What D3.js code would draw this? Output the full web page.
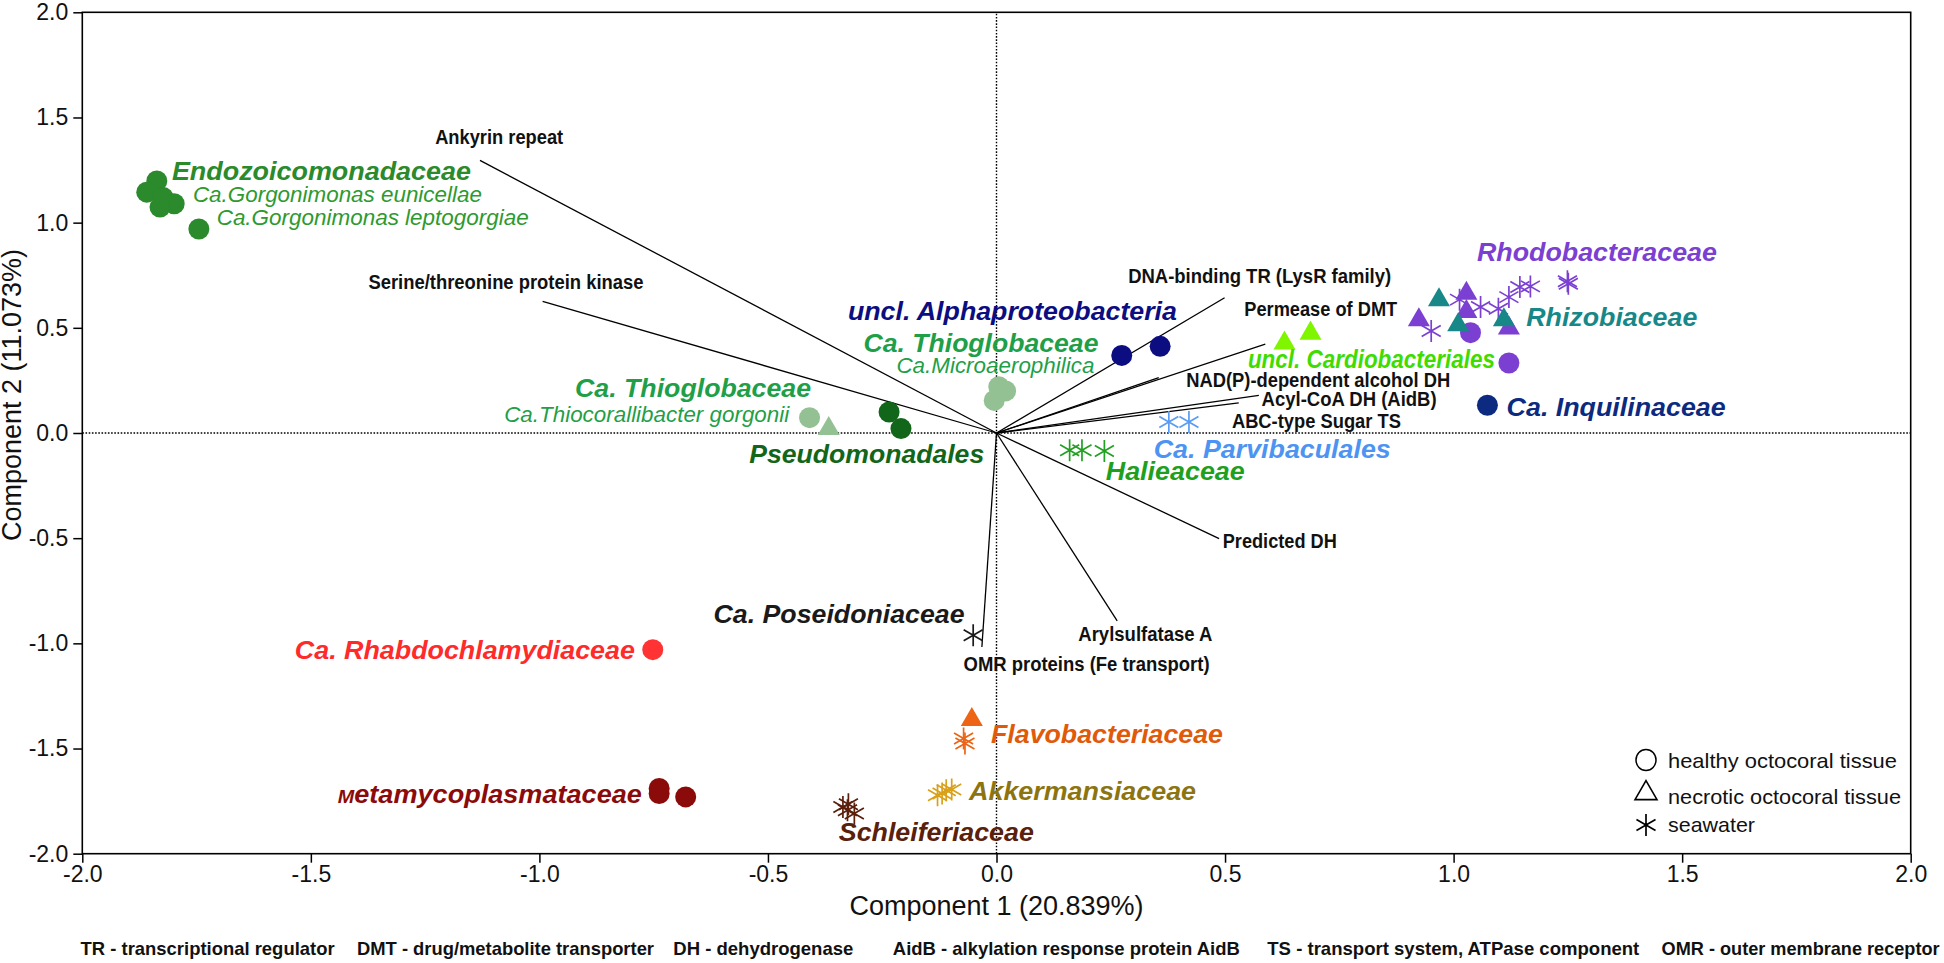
<!DOCTYPE html>
<html><head><meta charset="utf-8">
<script src="https://cdn.jsdelivr.net/npm/d3@7"></script>
<style>body{margin:0;background:#fff}svg{display:block}</style>
</head><body><svg id="c" width="1944" height="963"></svg>
<script>
// ---------------- DATA ----------------
const groups = ["Endozoicomonadaceae","Ca. Thioglobaceae","Pseudomonadales","uncl. Alphaproteobacteria","Halieaceae","Ca. Parvibaculales","uncl. Cardiobacteriales","Rhodobacteraceae","Rhizobiaceae","Ca. Inquilinaceae","Ca. Poseidoniaceae","Ca. Rhabdochlamydiaceae","Flavobacteriaceae","Akkermansiaceae","Schleiferiaceae","Metamycoplasmataceae"];

const sampleGroup = [
 "Endozoicomonadaceae","Endozoicomonadaceae","Endozoicomonadaceae","Endozoicomonadaceae","Endozoicomonadaceae","Endozoicomonadaceae",
 "Ca. Thioglobaceae","Ca. Thioglobaceae",
 "Pseudomonadales","Pseudomonadales",
 "Ca. Thioglobaceae","Ca. Thioglobaceae","Ca. Thioglobaceae",
 "uncl. Alphaproteobacteria","uncl. Alphaproteobacteria",
 "Halieaceae","Halieaceae","Halieaceae",
 "Ca. Parvibaculales","Ca. Parvibaculales",
 "uncl. Cardiobacteriales","uncl. Cardiobacteriales",
 "Rhodobacteraceae","Rhodobacteraceae","Rhodobacteraceae","Rhodobacteraceae",
 "Rhodobacteraceae","Rhodobacteraceae",
 "Rhodobacteraceae","Rhodobacteraceae","Rhodobacteraceae","Rhodobacteraceae","Rhodobacteraceae","Rhodobacteraceae","Rhodobacteraceae","Rhodobacteraceae","Rhodobacteraceae",
 "Rhizobiaceae","Rhizobiaceae","Rhizobiaceae",
 "Ca. Inquilinaceae",
 "Ca. Poseidoniaceae",
 "Ca. Rhabdochlamydiaceae",
 "Flavobacteriaceae","Flavobacteriaceae","Flavobacteriaceae",
 "Akkermansiaceae","Akkermansiaceae","Akkermansiaceae","Akkermansiaceae",
 "Schleiferiaceae","Schleiferiaceae","Schleiferiaceae","Schleiferiaceae",
 "Metamycoplasmataceae","Metamycoplasmataceae","Metamycoplasmataceae"
];
const sampleType = [
 "healthy","healthy","healthy","healthy","healthy","healthy",
 "healthy","necrotic",
 "healthy","healthy",
 "healthy","healthy","healthy",
 "healthy","healthy",
 "seawater","seawater","seawater",
 "seawater","seawater",
 "necrotic","necrotic",
 "necrotic","necrotic","necrotic","necrotic",
 "healthy","healthy",
 "seawater","seawater","seawater","seawater","seawater","seawater","seawater","seawater","seawater",
 "necrotic","necrotic","necrotic",
 "healthy",
 "seawater",
 "healthy",
 "necrotic","seawater","seawater",
 "seawater","seawater","seawater","seawater",
 "seawater","seawater","seawater","seawater",
 "healthy","healthy","healthy"
];
const sampleX = [
 -1.837,-1.859,-1.823,-1.799,-1.830,-1.745,
 -0.409,-0.367,
 -0.235,-0.209,
 0.005,0.020,-0.005,
 0.274,0.358,
 0.160,0.187,0.236,
 0.377,0.421,
 0.630,0.687,
 0.924,1.028,1.028,1.121,
 1.037,1.121,
 0.951,1.013,1.059,1.098,1.121,1.145,1.168,1.249,1.251,
 0.968,1.010,1.110,
 1.074,
 -0.051,
 -0.752,
 -0.054,-0.072,-0.069,
 -0.129,-0.110,-0.098,-0.119,
 -0.336,-0.324,-0.311,-0.326,
 -0.738,-0.738,-0.680
];
const sampleY = [
 1.198,1.145,1.119,1.090,1.074,0.970,
 0.073,0.027,
 0.100,0.021,
 0.220,0.200,0.155,
 0.369,0.412,
 -0.082,-0.082,-0.086,
 0.052,0.052,
 0.433,0.480,
 0.544,0.670,0.583,0.504,
 0.477,0.333,
 0.485,0.634,0.599,0.591,0.646,0.694,0.697,0.721,0.710,
 0.639,0.520,0.544,
 0.132,
 -0.961,
 -1.030,
 -1.357,-1.452,-1.476,
 -1.722,-1.698,-1.695,-1.714,
 -1.778,-1.765,-1.809,-1.793,
 -1.690,-1.714,-1.730
];

const vectorNames = ["Ankyrin repeat","Serine/threonine protein kinase","DNA-binding TR (LysR family)","Permease of DMT","NAD(P)-dependent alcohol DH","Acyl-CoA DH (AidB)","ABC-type Sugar TS","Predicted DH","Arylsulfatase A","OMR proteins (Fe transport)"];
const vectorX = [-1.130,-0.993,0.499,0.588,0.355,0.574,0.530,0.487,0.264,-0.032];
const vectorY = [1.296,0.626,0.643,0.422,0.263,0.179,0.143,-0.502,-0.893,-1.017];

const xTicks = [-2.0,-1.5,-1.0,-0.5,0.0,0.5,1.0,1.5,2.0];
const yTicks = [-2.0,-1.5,-1.0,-0.5,0.0,0.5,1.0,1.5,2.0];
const xTitle = "Component 1 (20.839%)";
const yTitle = "Component 2 (11.073%)";
const legendLabels = ["healthy octocoral tissue","necrotic octocoral tissue","seawater"];
const legendTypes = ["healthy","necrotic","seawater"];
const footnotes = ["TR - transcriptional regulator","DMT - drug/metabolite transporter","DH - dehydrogenase","AidB - alkylation response protein AidB","TS - transport system, ATPase component","OMR - outer membrane receptor"];

// ---------------- STYLE / LAYOUT ----------------
const groupColor = {
 "Endozoicomonadaceae":"#2b8a2b","Ca. Thioglobaceae":"#93c193","Pseudomonadales":"#11661a",
 "uncl. Alphaproteobacteria":"#0d0d82","Halieaceae":"#22a022","Ca. Parvibaculales":"#5a9cf5",
 "uncl. Cardiobacteriales":"#80f500","Rhodobacteraceae":"#7b40d2","Rhizobiaceae":"#178787",
 "Ca. Inquilinaceae":"#0b2a80","Ca. Poseidoniaceae":"#1a1a1a","Ca. Rhabdochlamydiaceae":"#ff3333",
 "Flavobacteriaceae":"#ec6414","Akkermansiaceae":"#d9a01a","Schleiferiaceae":"#5a200c",
 "Metamycoplasmataceae":"#8b0a0a"
};
// taxon labels: [text, colour, bold?, x(data), y(data), width px]
const taxonLabels = [
 ["Endozoicomonadaceae","#2b8a2b",true,-1.804,1.249,299],
 ["Ca.Gorgonimonas eunicellae","#2e9a2e",false,-1.758,1.138,289],
 ["Ca.Gorgonimonas leptogorgiae","#2e9a2e",false,-1.706,1.027,312],
 ["Ca. Thioglobaceae","#1f9f48",true,-0.922,0.215,236],
 ["Ca.Thiocorallibacter gorgonii","#1f9f48",false,-1.077,0.089,285],
 ["Pseudomonadales","#11661a",true,-0.541,-0.098,235],
 ["uncl. Alphaproteobacteria","#0d0d82",true,-0.325,0.583,329],
 ["Ca. Thioglobaceae","#1f9f48",true,-0.291,0.430,235],
 ["Ca.Microaerophilica","#1f9f48",false,-0.219,0.322,198],
 ["uncl. Cardiobacteriales","#40dc00",true,0.550,0.354,247],
 ["Ca. Parvibaculales","#4d94f2",true,0.344,-0.074,237],
 ["Halieaceae","#1ea01e",true,0.239,-0.181,139],
 ["Rhodobacteraceae","#7b40d2",true,1.051,0.864,240],
 ["Rhizobiaceae","#178787",true,1.159,0.551,171],
 ["Ca. Inquilinaceae","#0b2a80",true,1.116,0.124,219],
 ["Ca. Poseidoniaceae","#1a1a1a",true,-0.619,-0.858,251],
 ["Ca. Rhabdochlamydiaceae","#ff2a2a",true,-1.535,-1.028,340],
 ["Flavobacteriaceae","#e05a0a",true,-0.012,-1.429,232],
 ["Akkermansiaceae","#8c7510",true,-0.060,-1.698,227],
 ["Schleiferiaceae","#5a200c",true,-0.345,-1.896,195],
 ["Metamycoplasmataceae","#8b0a0a",true,-1.441,-1.714,304]
];
// vector label anchors: [x(data), y(data), width px]
const vectorLabelPos = [
 [-1.228,1.410,128],[-1.374,0.718,275],[0.288,0.745,263],[0.542,0.591,153],[0.415,0.254,264],
 [0.580,0.163,175],[0.515,0.057,169],[0.495,-0.513,114],[0.179,-0.953,134],[-0.072,-1.095,246]
];
const footPos = [[80.6,254],[357,297],[673.3,180],[892.8,347],[1267.3,372],[1661.6,278]];

const FONT = "'Liberation Sans', Arial, Helvetica, sans-serif";
const W = 1944, H = 963;
const svg = d3.select("#c");
svg.append("rect").attr("width",W).attr("height",H).attr("fill","#fff");

const x = d3.scaleLinear().domain([-2,2]).range([82.3,1910.7]);
const y = d3.scaleLinear().domain([-2,2]).range([853.7,12.3]);

// dotted zero lines
svg.append("line").attr("x1",x(-2)).attr("x2",x(2)).attr("y1",y(0)).attr("y2",y(0))
  .attr("stroke","#000").attr("stroke-width",1.4).attr("stroke-dasharray","1.6,1.6");
svg.append("line").attr("x1",x(0)).attr("x2",x(0)).attr("y1",y(-2)).attr("y2",y(2))
  .attr("stroke","#000").attr("stroke-width",1.4).attr("stroke-dasharray","1.6,1.6");

// axes
const fmt = d => d.toFixed(1);
const xa = svg.append("g").attr("transform",`translate(0,${y(-2)})`)
  .call(d3.axisBottom(x).tickValues(xTicks).tickFormat(fmt).tickSize(9).tickPadding(3));
const ya = svg.append("g").attr("transform",`translate(${x(-2)},0)`)
  .call(d3.axisLeft(y).tickValues(yTicks).tickFormat(fmt).tickSize(9).tickPadding(5));
[xa,ya].forEach(g=>{
  g.select(".domain").remove();
  g.selectAll(".tick line").attr("stroke","#000").attr("stroke-width",1.5);
  g.selectAll(".tick text").attr("font-size",23).attr("font-family",FONT).attr("fill","#111");
});

// frame
svg.append("rect").attr("x",x(-2)).attr("y",y(2)).attr("width",x(2)-x(-2)).attr("height",y(-2)-y(2))
  .attr("fill","none").attr("stroke","#000").attr("stroke-width",1.6);

// axis titles
svg.append("text").attr("x",(x(-2)+x(2))/2).attr("y",915).attr("text-anchor","middle")
  .attr("font-family",FONT).attr("font-size",27).attr("fill","#111").text(xTitle);
svg.append("text").attr("transform","translate(21,395) rotate(-90)").attr("text-anchor","middle")
  .attr("font-family",FONT).attr("font-size",27).attr("fill","#111").text(yTitle);

// loading vectors
const vecs = vectorNames.map((n,i)=>({n, vx:vectorX[i], vy:vectorY[i], lp:vectorLabelPos[i]}));
svg.append("g").selectAll("line").data(vecs).join("line")
  .attr("x1",x(0)).attr("y1",y(0)).attr("x2",d=>x(d.vx)).attr("y2",d=>y(d.vy))
  .attr("stroke","#000").attr("stroke-width",1.3);
svg.append("g").selectAll("text").data(vecs).join("text")
  .attr("x",d=>x(d.lp[0])).attr("y",d=>y(d.lp[1])).attr("dy","0.36em")
  .attr("font-family",FONT).attr("font-weight","bold").attr("font-size",20).attr("fill","#111")
  .attr("textLength",d=>d.lp[2]).attr("lengthAdjust","spacingAndGlyphs").text(d=>d.n);

// symbols
const R = 10.5;
function triPath(s){const h=s*0.866;return `M0,${-h*0.6}L${s/2},${h*0.4}L${-s/2},${h*0.4}Z`;}
function starPath(r){let p="";[90,30,-30].forEach(a=>{const c=Math.cos(a*Math.PI/180)*r,s=Math.sin(a*Math.PI/180)*r;p+=`M${c},${-s}L${-c},${s}`;});return p;}
const samples = sampleX.map((v,i)=>({x:v,y:sampleY[i],g:sampleGroup[i],t:sampleType[i]}));
const gp = svg.append("g");
samples.forEach(d=>{
  const col = groupColor[d.g];
  const tr = `translate(${x(d.x)},${y(d.y)})`;
  if(d.t==="healthy") gp.append("circle").attr("cx",x(d.x)).attr("cy",y(d.y)).attr("r",R).attr("fill",col);
  else if(d.t==="necrotic") gp.append("path").attr("transform",tr).attr("d",triPath(22)).attr("fill",col);
  else gp.append("path").attr("transform",tr).attr("d",starPath(11)).attr("stroke",col).attr("stroke-width",1.7).attr("fill","none");
});

// taxon labels
const tl = svg.append("g");
taxonLabels.forEach(([t,c,b,lx,ly,w])=>{
  const el = tl.append("text").attr("x",x(lx)).attr("y",y(ly)).attr("dy","0.36em")
    .attr("font-family",FONT).attr("font-style","italic").attr("fill",c)
    .attr("font-weight",b?"bold":"normal").attr("font-size",b?26:22)
    .attr("textLength",w).attr("lengthAdjust","spacingAndGlyphs");
  if(t==="Metamycoplasmataceae"){
    el.append("tspan").attr("font-size",19).text(t.slice(0,1));
    el.append("tspan").text(t.slice(1));
  } else el.text(t);
});

// legend
const lg = svg.append("g");
const legY = [760,792,825], legTxtY=[760,796.5,824.5], legW=[229,233,87];
legendTypes.forEach((t,i)=>{
  const tr = `translate(1646,${legY[i]})`;
  if(t==="healthy") lg.append("ellipse").attr("cx",1646).attr("cy",legY[i]).attr("rx",10).attr("ry",10.5).attr("fill","none").attr("stroke","#000").attr("stroke-width",1.5);
  else if(t==="necrotic") lg.append("path").attr("transform",tr).attr("d",triPath(22)).attr("fill","none").attr("stroke","#000").attr("stroke-width",1.6);
  else lg.append("path").attr("transform",tr).attr("d",starPath(11)).attr("stroke","#000").attr("stroke-width",1.7);
  lg.append("text").attr("x",1668).attr("y",legTxtY[i]).attr("dy","0.36em").attr("font-family",FONT)
    .attr("font-size",21).attr("fill","#111").attr("textLength",legW[i]).attr("lengthAdjust","spacingAndGlyphs").text(legendLabels[i]);
});

// footnote
svg.append("g").selectAll("text").data(footnotes).join("text")
  .attr("x",(d,i)=>footPos[i][0]).attr("y",948).attr("dy","0.36em")
  .attr("font-family",FONT).attr("font-weight","bold").attr("font-size",19).attr("fill","#111")
  .attr("textLength",(d,i)=>footPos[i][1]).attr("lengthAdjust","spacingAndGlyphs").text(d=>d);
</script></body></html>
